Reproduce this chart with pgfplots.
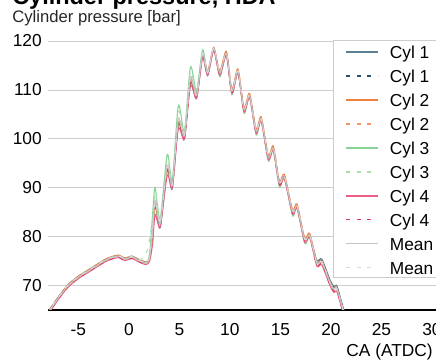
\documentclass[border=0pt]{standalone}
\usepackage{pgfplots}
\usepackage{pgfplotstable}
\pgfplotsset{compat=1.18}
\usepackage{fontspec}
\setmainfont{Liberation Sans}
\definecolor{cA}{RGB}{90,128,150}
\definecolor{cAd}{RGB}{35,85,115}
\definecolor{cB}{RGB}{240,128,64}
\definecolor{cBd}{RGB}{245,150,95}
\definecolor{cC}{RGB}{135,212,148}
\definecolor{cCd}{RGB}{165,225,175}
\definecolor{cD}{RGB}{235,95,135}
\definecolor{cDd}{RGB}{225,55,95}
\definecolor{cM}{RGB}{195,195,195}
\definecolor{cMd}{RGB}{215,215,215}
\definecolor{gridgray}{RGB}{205,205,205}
\definecolor{legendgray}{RGB}{205,205,205}
\pgfplotstableread{
x m c1 c1d c2 c2d c3 c3d c4 c4d md
-8.2 64.2 64.4 64.3 64.4 64.2 64.2 64.3 63.9 64.0 64.3
-7.8 65.0 65.2 65.1 65.2 65.0 65.0 65.1 64.7 64.8 65.1
-7.0 67.4 67.6 67.5 67.6 67.4 67.4 67.5 67.1 67.2 67.5
-6.0 70.0 70.2 70.1 70.2 70.0 70.0 70.1 69.7 69.8 70.1
-5.0 71.7 71.9 71.8 71.9 71.7 71.7 71.8 71.4 71.5 71.8
-4.0 73.0 73.2 73.1 73.2 73.0 73.0 73.1 72.7 72.8 73.1
-3.0 74.3 74.5 74.4 74.5 74.3 74.3 74.4 74.0 74.1 74.4
-2.2 75.3 75.5 75.4 75.5 75.3 75.3 75.4 75.0 75.1 75.4
-1.5 75.8 76.0 75.9 76.0 75.8 75.8 75.9 75.5 75.6 75.9
-1.0 76.0 76.2 76.1 76.2 76.0 76.0 76.1 75.7 75.8 76.1
-0.4 75.4 75.6 75.5 75.6 75.4 75.4 75.5 75.1 75.2 75.5
0.3 75.8 76.0 75.9 76.0 75.8 75.8 75.9 75.5 75.6 75.9
1.0 75.1 75.3 75.2 75.3 75.1 75.1 75.2 74.8 74.9 75.2
1.7 74.6 74.8 74.7 74.8 74.6 74.6 76.5 74.3 74.4 74.7
2.05 75.6 75.2 75.5 75.3 75.6 76.5 79.5 75.0 75.3 75.8
2.35 81.0 80.0 81.0 79.5 80.5 84.5 83.5 78.5 80.0 81.3
2.6 87.5 86.5 87.0 86.5 87.5 90.0 89.0 84.5 86.0 87.3
3.1 82.6 81.8 82.3 82.8 83.0 83.6 84.0 82.0 82.5 82.8
3.8 94.5 93.5 94.0 93.8 94.5 96.8 95.8 92.5 93.5 94.3
4.3 90.5 89.8 90.3 90.8 91.0 91.5 91.8 90.0 90.5 90.7
4.9 104.0 103.0 103.5 103.5 104.3 106.8 105.5 102.0 103.0 104.0
5.5 100.6 99.9 100.3 100.9 101.0 101.6 101.8 100.0 100.5 100.8
6.1 112.6 111.5 112.0 112.0 112.6 114.7 113.8 110.8 111.8 112.5
6.7 108.8 108.2 108.6 109.2 109.0 109.8 109.6 108.3 108.8 109.0
7.3 117.3 116.8 117.0 117.3 117.6 118.2 117.8 116.5 117.0 117.4
7.8 113.4 112.9 113.2 113.8 113.6 113.5 113.8 113.0 113.3 113.6
8.4 118.5 118.2 118.3 118.7 118.5 118.4 118.6 118.0 118.3 118.6
9.0 113.5 113.4 113.6 113.9 113.7 112.7 113.1 113.0 113.2 113.6
9.65 117.4 117.2 117.4 117.9 117.6 117.1 117.3 117.0 117.2 117.5
10.2 109.8 109.7 109.9 110.2 110.0 109.0 109.4 109.3 109.5 109.9
10.8 113.8 113.6 113.8 114.3 114.0 113.5 113.7 113.4 113.6 113.9
11.4 106.0 105.9 106.1 106.4 106.2 105.2 105.6 105.5 105.7 106.1
11.95 108.8 108.6 108.8 109.3 109.0 108.5 108.7 108.4 108.6 108.9
12.6 101.6 101.5 101.7 102.0 101.8 100.8 101.2 101.1 101.3 101.7
13.1 104.0 103.8 104.0 104.5 104.2 103.7 103.9 103.6 103.8 104.1
13.8 96.3 96.2 96.4 96.7 96.5 95.5 95.9 95.8 96.0 96.4
14.3 98.0 97.8 98.0 98.5 98.2 97.7 97.9 97.6 97.8 98.1
14.9 91.0 90.9 91.1 91.4 91.2 90.2 90.6 90.5 90.7 91.1
15.4 92.2 92.0 92.2 92.7 92.4 91.9 92.1 91.8 92.0 92.3
16.2 85.1 85.0 85.2 85.5 85.3 84.3 84.7 84.6 84.8 85.2
16.65 86.2 86.0 86.2 86.7 86.4 85.9 86.1 85.8 86.0 86.3
17.4 79.4 79.3 79.5 79.8 79.6 78.6 79.0 78.9 79.1 79.5
17.9 80.2 80.0 80.2 80.7 80.4 79.9 80.1 79.8 80.0 80.3
18.6 74.6 75.2 74.9 74.8 74.6 74.6 74.4 74.0 74.2 74.7
19.1 74.8 75.4 75.1 75.0 74.8 74.8 74.6 74.2 74.4 74.9
19.9 70.6 71.2 70.9 70.8 70.6 70.6 70.4 70.0 70.2 70.7
20.3 69.2 69.8 69.5 69.4 69.2 69.2 69.0 68.6 68.8 69.3
20.6 69.3 69.9 69.6 69.5 69.3 69.3 69.1 68.7 68.9 69.4
21.2 65.0 65.6 65.3 65.2 65.0 65.0 64.8 64.4 64.6 65.1
21.5 63.5 64.0 63.8 63.7 63.5 63.5 63.3 63.0 63.2 63.6
}\data
\begin{document}
\begin{tikzpicture}
\begin{axis}[
  at={(0pt,0pt)}, anchor=south west,
  scale only axis, width=291pt, height=201.75pt,
  xmin=-8, xmax=30.4, ymin=65, ymax=120,
  xtick={-5,0,5,10,15,20,25,30}, ytick={70,80,90,100,110,120},
  axis x line*=bottom, axis y line*=left,
  y axis line style={draw=none},
  x axis line style={black, line width=1.5pt},
  tick style={draw=none}, major tick length=0pt,
  ymajorgrids, grid style={draw=gridgray, line width=0.6pt},
  tick label style={font=\fontsize{13}{15}\selectfont},
  /pgf/number format/assume math mode=true,
  yticklabel style={anchor=east, inner sep=0pt, xshift=-4.5pt},
  xticklabel style={anchor=north, inner sep=0pt, yshift=-9.75pt},
  xlabel={CA (ATDC)},
  xlabel style={at={(rel axis cs:1,0)}, anchor=base east, inner sep=0pt, yshift=-35.25pt, xshift=-2.25pt, font=\fontsize{13}{15}\selectfont},
  legend cell align=left,
  legend style={at={(rel axis cs:0.7345,1.003)}, anchor=north west, draw=legendgray, line width=0.6pt,
    font=\fontsize{13}{15}\selectfont, inner xsep=9pt, inner ysep=1pt, row sep=4pt, column sep=8.25pt,
    nodes={inner sep=0pt, text height=12.7pt, text depth=1.25pt}},
  legend image code/.code={\draw[#1, line width=1.1pt] (0pt,-0.75pt) -- (24pt,-0.75pt);},
  every axis plot/.append style={line width=0.8pt, smooth, tension=0.45},
]
\addplot[cA] table[x=x,y=c1]{\data}; \addlegendentry{Cyl 1}
\addplot[cAd, dash pattern=on 3pt off 5pt] table[x=x,y=c1d]{\data}; \addlegendentry{Cyl 1}
\addplot[cB] table[x=x,y=c2]{\data}; \addlegendentry{Cyl 2}
\addplot[cBd, dash pattern=on 3pt off 5pt] table[x=x,y=c2d]{\data}; \addlegendentry{Cyl 2}
\addplot[cC] table[x=x,y=c3]{\data}; \addlegendentry{Cyl 3}
\addplot[cCd, dash pattern=on 3pt off 5pt] table[x=x,y=c3d]{\data}; \addlegendentry{Cyl 3}
\addplot[cD] table[x=x,y=c4]{\data}; \addlegendentry{Cyl 4}
\addplot[cDd, dash pattern=on 3pt off 5pt] table[x=x,y=c4d]{\data}; \addlegendentry{Cyl 4}
\addplot[cM] table[x=x,y=m]{\data}; \addlegendentry{Mean}
\addplot[cMd, dash pattern=on 3pt off 5pt] table[x=x,y=md]{\data}; \addlegendentry{Mean}
\end{axis}
\node[anchor=base west, inner sep=0pt, font=\fontsize{17.6}{20}\selectfont\bfseries] at (-27pt,228.75pt) {Cylinder pressure, HDA};
\node[anchor=base west, inner sep=0pt, font=\fontsize{12.5}{14}\selectfont, text=black!85] at (-27pt,215.25pt) {Cylinder pressure [bar]};
\pgfresetboundingbox
\useasboundingbox (-36pt,-39.75pt) rectangle (291pt,232.5pt);
\end{tikzpicture}
\end{document}
